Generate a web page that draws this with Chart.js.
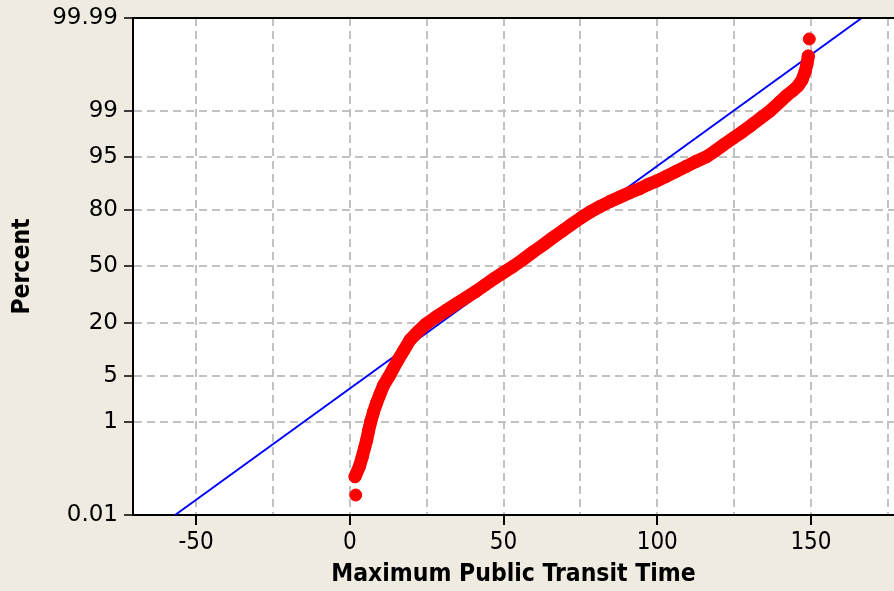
<!DOCTYPE html>
<html>
<head>
<meta charset="utf-8">
<script src="https://cdn.jsdelivr.net/npm/chart.js@4/dist/chart.umd.min.js"></script>
<style>
  html, body { margin: 0; padding: 0; background: #efebe1; }
  #wrap { width: 894px; height: 591px; }
</style>
</head>
<body>
<div id="wrap"><canvas id="chart" width="894" height="591"></canvas></div>
<script>
// Normal probability plot of maximum public transit time.

// Sample values (time) and their cumulative percent positions.
const TRANSIT_TIME = [
  1.93, 1.71, 3.11, 4.08, 4.80, 5.51, 6.10, 6.81, 7.72, 8.70,
  9.84, 10.98, 12.76, 14.07, 15.69, 17.64, 19.59, 22.20, 24.80, 28.05,
  31.30, 34.55, 38.03, 41.06, 43.98, 46.91, 50.00, 53.09, 56.34, 59.59,
  62.85, 66.10, 69.35, 72.28, 75.11, 78.13, 81.38, 84.63, 87.89, 91.14,
  94.39, 96.99, 99.82, 102.85, 106.10, 109.35, 112.60, 116.08, 118.78, 121.71,
  124.73, 127.56, 130.49, 133.41, 136.67, 139.59, 142.10, 144.15, 145.77, 147.07,
  148.05, 148.70, 149.12, 149.45
];
const CUM_PERCENT = [
  0.0313, 0.083, 0.137, 0.221, 0.33, 0.471, 0.691, 1.01, 1.47, 2.05,
  2.82, 3.75, 5.00, 6.25, 8.09, 10.57, 13.57, 16.53, 19.47, 22.49,
  25.51, 28.73, 32.24, 35.53, 39.09, 42.76, 46.42, 50.00, 54.17, 58.59,
  62.62, 66.79, 70.50, 73.76, 76.60, 79.26, 81.54, 83.47, 85.09, 86.59,
  87.85, 89.01, 89.96, 91.10, 92.25, 93.27, 94.20, 95.00, 95.80, 96.61,
  97.28, 97.79, 98.26, 98.66, 99.00, 99.29, 99.475, 99.578, 99.655, 99.737,
  99.820, 99.878, 99.918, 99.967
];

// Fitted normal distribution line (end points at the axis limits).
const FIT_TIME = [-56.8, 166.5];
const FIT_PERCENT = [0.01, 99.99];

// Axis ticks.
const PERCENT_TICKS = [0.01, 1, 5, 20, 50, 80, 95, 99, 99.99];
const TIME_GRID = [-50, -25, 0, 25, 50, 75, 100, 125, 150, 175];
const TIME_LABELS = [-50, 0, 50, 100, 150];
const TIME_MIN = -70.5;
const TIME_MAX = 177;

// --- normal distribution helpers ---
function normCdf(z) {
  const t = 1 / (1 + 0.2316419 * Math.abs(z));
  const d = 0.3989422804014327 * Math.exp(-z * z / 2);
  const p = d * t * (0.319381530 + t * (-0.356563782 + t * (1.781477937 + t * (-1.821255978 + t * 1.330274429))));
  return z > 0 ? 1 - p : p;
}
function normInv(p) {
  const a = [-3.969683028665376e+01, 2.209460984245205e+02, -2.759285104469687e+02, 1.383577518672690e+02, -3.066479806614716e+01, 2.506628277459239e+00];
  const b = [-5.447609879822406e+01, 1.615858368580409e+02, -1.556989798598866e+02, 6.680131188771972e+01, -1.328068155288572e+01];
  const c = [-7.784894002430293e-03, -3.223964580411365e-01, -2.400758277161838e+00, -2.549732539343734e+00, 4.374664141464968e+00, 2.938163982698783e+00];
  const d = [7.784695709041462e-03, 3.224671290700398e-01, 2.445134137142996e+00, 3.754408661907416e+00];
  const pl = 0.02425, ph = 1 - pl;
  let q, r;
  if (p < pl) {
    q = Math.sqrt(-2 * Math.log(p));
    return (((((c[0]*q+c[1])*q+c[2])*q+c[3])*q+c[4])*q+c[5]) / ((((d[0]*q+d[1])*q+d[2])*q+d[3])*q+1);
  }
  if (p <= ph) {
    q = p - 0.5; r = q * q;
    return (((((a[0]*r+a[1])*r+a[2])*r+a[3])*r+a[4])*r+a[5])*q / (((((b[0]*r+b[1])*r+b[2])*r+b[3])*r+b[4])*r+1);
  }
  q = Math.sqrt(-2 * Math.log(1 - p));
  return -(((((c[0]*q+c[1])*q+c[2])*q+c[3])*q+c[4])*q+c[5]) / ((((d[0]*q+d[1])*q+d[2])*q+d[3])*q+1);
}

// Percent axis spaced by normal quantiles.
class ProbabilityScale extends Chart.LinearScale {
  determineDataLimits() {
    this.min = PERCENT_TICKS[0];
    this.max = PERCENT_TICKS[PERCENT_TICKS.length - 1];
  }
  buildTicks() {
    return PERCENT_TICKS.map(v => ({ value: v }));
  }
  configure() {
    super.configure();
    this._zStart = normInv(this.min / 100);
    this._zRange = normInv(this.max / 100) - this._zStart;
  }
  getPixelForValue(value) {
    if (value === null || value === undefined || isNaN(value)) return NaN;
    return this.getPixelForDecimal((normInv(value / 100) - this._zStart) / this._zRange);
  }
  getValueForPixel(pixel) {
    return 100 * normCdf(this._zStart + this.getDecimalForPixel(pixel) * this._zRange);
  }
}
ProbabilityScale.id = 'probability';
ProbabilityScale.defaults = Chart.LinearScale.defaults;
Chart.register(ProbabilityScale);

const GRID_GREY = '#c2c2c2';
const CLEAR = 'rgba(0,0,0,0)';
const lastIdx = TRANSIT_TIME.length - 1;
const TITLE_FONT = { family: '"DejaVu Sans Condensed", "DejaVu Sans", sans-serif', size: 24.5, weight: 'bold' };

// White plot area and the black frame line along the top.
const plotFrame = {
  id: 'plotFrame',
  beforeDraw(chart) {
    const { ctx, chartArea: a } = chart;
    ctx.save();
    ctx.fillStyle = '#ffffff';
    ctx.fillRect(a.left, a.top, a.right - a.left, a.bottom - a.top);
    ctx.restore();
  },
  afterDraw(chart) {
    const { ctx, chartArea: a } = chart;
    ctx.save();
    ctx.strokeStyle = '#000000';
    ctx.lineWidth = 2;
    ctx.beginPath();
    ctx.moveTo(a.left, a.top);
    ctx.lineTo(a.right, a.top);
    ctx.stroke();
    ctx.restore();
  }
};

new Chart(document.getElementById('chart'), {
  type: 'scatter',
  data: {
    datasets: [
      {
        label: 'Maximum Public Transit Time',
        data: TRANSIT_TIME.map((x, i) => ({ x, y: CUM_PERCENT[i] })),
        showLine: true,
        borderColor: '#ff0000',
        borderWidth: 13,
        borderCapStyle: 'round',
        borderJoinStyle: 'round',
        segment: {
          borderColor: ctx => (ctx.p0DataIndex === 0 || ctx.p1DataIndex === lastIdx) ? CLEAR : undefined
        },
        pointRadius: 6,
        pointBorderWidth: 1,
        pointBackgroundColor: '#ff0000',
        pointBorderColor: '#ff0000',
        order: 0
      },
      {
        label: 'Normal fit',
        data: FIT_TIME.map((x, i) => ({ x, y: FIT_PERCENT[i] })),
        showLine: true,
        borderColor: '#0000ff',
        borderWidth: 2,
        pointRadius: 0,
        order: 1
      }
    ]
  },
  options: {
    responsive: false,
    animation: false,
    layout: { autoPadding: false, padding: { top: 18, right: 0, bottom: 0, left: 0 } },
    plugins: {
      legend: { display: false },
      tooltip: { enabled: false }
    },
    scales: {
      x: {
        type: 'linear',
        min: TIME_MIN,
        max: TIME_MAX,
        afterBuildTicks: scale => { scale.ticks = TIME_GRID.map(v => ({ value: v })); },
        afterFit: scale => {
          scale.height = 76;
          scale.paddingLeft = 0;
          scale.paddingRight = 0;
        },
        ticks: {
          autoSkip: false,
          maxRotation: 0,
          padding: 3,
          color: '#000000',
          font: { family: '"DejaVu Sans Condensed", "DejaVu Sans", sans-serif', size: 24 },
          callback: v => TIME_LABELS.includes(v) ? String(v) : ''
        },
        grid: {
          color: GRID_GREY,
          lineWidth: 2,
          tickLength: 10,
          tickWidth: 2,
          tickColor: ctx => (ctx.tick && TIME_LABELS.includes(ctx.tick.value)) ? '#000000' : CLEAR
        },
        border: { color: '#000000', width: 2, dash: [8, 5] },
        title: {
          display: true,
          text: 'Maximum Public Transit Time',
          color: '#000000',
          font: TITLE_FONT,
          padding: { top: 0, bottom: 2 }
        }
      },
      y: {
        type: 'probability',
        position: 'left',
        afterFit: scale => {
          scale.width = 133;
          scale.paddingTop = 0;
          scale.paddingBottom = 0;
        },
        ticks: {
          autoSkip: false,
          padding: 6,
          color: '#000000',
          font: { family: '"DejaVu Sans", sans-serif', size: 23 },
          callback: v => String(v)
        },
        grid: {
          color: ctx => (ctx.tick && (ctx.tick.value === PERCENT_TICKS[0] || ctx.tick.value === PERCENT_TICKS[PERCENT_TICKS.length - 1])) ? CLEAR : GRID_GREY,
          lineWidth: 2,
          tickLength: 9,
          tickWidth: 1.5,
          tickColor: '#000000'
        },
        border: { color: '#000000', width: 2, dash: [8, 5] },
        title: {
          display: true,
          text: 'Percent',
          color: '#000000',
          font: TITLE_FONT,
          padding: { top: 8, bottom: 0 }
        }
      }
    }
  },
  plugins: [plotFrame]
});
</script>
</body>
</html>
